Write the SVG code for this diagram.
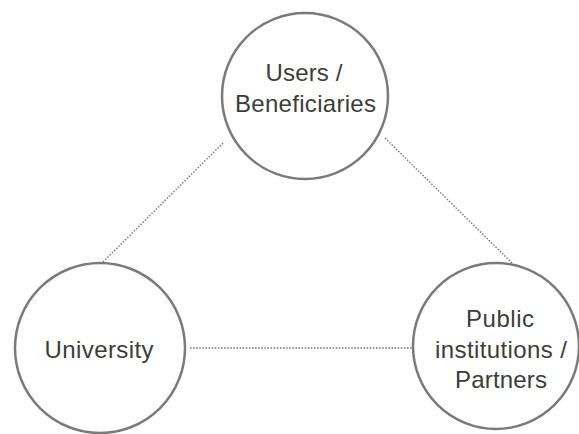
<svg xmlns="http://www.w3.org/2000/svg" width="579" height="434" viewBox="0 0 579 434">
<style>
.node circle{fill:#fff;stroke:#7a7a7a;stroke-width:2.5}
.node text{font-family:"Liberation Sans",Arial,sans-serif;font-size:24px;fill:#3c3c3c;text-anchor:middle}
.conn line{stroke:#6e6e6e;stroke-width:1.3;stroke-dasharray:1.5 1.6;fill:none}
</style>
<rect width="579" height="434" fill="#fff"/>
<g id="connectors" class="conn">
<line x1="223" y1="143" x2="103" y2="262"/>
<line x1="385" y1="138" x2="513" y2="264"/>
<line x1="190" y1="348" x2="412" y2="348"/>
</g>
<g id="users" class="node">
<circle cx="305" cy="96" r="83"/>
<text x="304" y="81" textLength="77" lengthAdjust="spacing">Users /</text>
<text x="305.5" y="112" textLength="141" lengthAdjust="spacing">Beneficiaries</text>
</g>
<g id="university" class="node">
<circle cx="100" cy="348" r="85"/>
<text x="99" y="358" textLength="109" lengthAdjust="spacing">University</text>
</g>
<g id="partners" class="node">
<circle cx="496" cy="346" r="83"/>
<text x="500" y="327" textLength="68" lengthAdjust="spacing">Public</text>
<text x="501" y="358" textLength="132" lengthAdjust="spacing">institutions /</text>
<text x="501" y="388" textLength="92" lengthAdjust="spacing">Partners</text>
</g>
</svg>
